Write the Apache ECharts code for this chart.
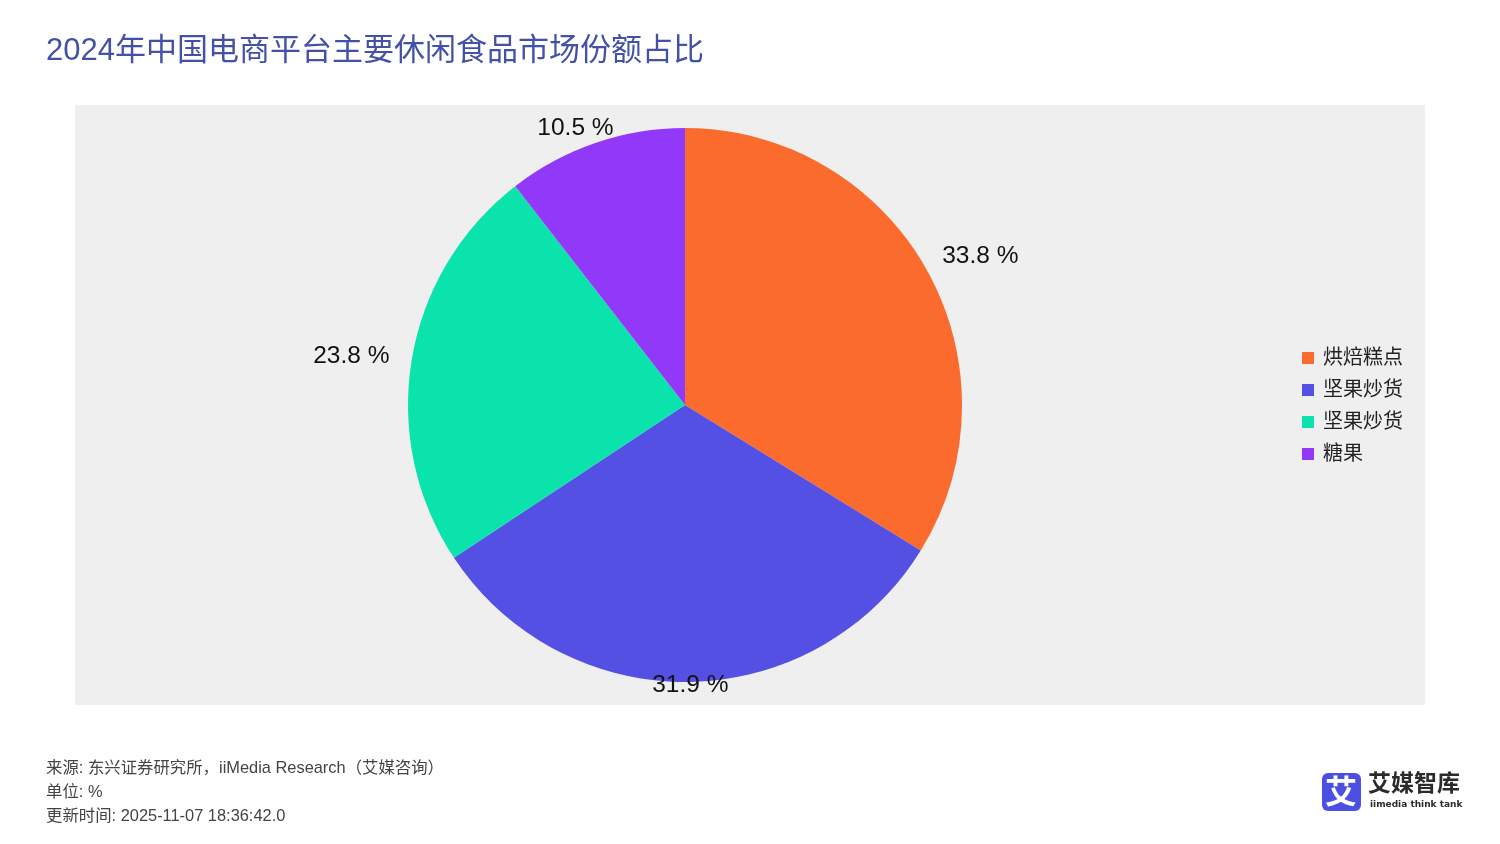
<!DOCTYPE html>
<html>
<head>
<meta charset="utf-8">
<script src="https://cdn.jsdelivr.net/npm/echarts@6/dist/echarts.min.js"></script>
<style>
html,body{margin:0;padding:0;background:#fff;}
#chart{width:1500px;height:844px;}
</style>
</head>
<body>
<div id="chart"></div>
<script>
const titleText = '2024年中国电商平台主要休闲食品市场份额占比';
const categories = ['烘焙糕点', '坚果炒货', '坚果炒货', '糖果'];
const shares = [33.8, 31.9, 23.8, 10.5];
const colors = ['#FB6B2D', '#5450E4', '#0BE3AC', '#9238F9'];
const footerLines = [
  '来源: 东兴证券研究所，iiMedia Research（艾媒咨询）',
  '单位: %',
  '更新时间: 2025-11-07 18:36:42.0'
];

const keys = categories.map((c, i) => c + '#' + i);
const pieData = keys.map((k, i) => ({ name: k, value: shares[i], itemStyle: { color: colors[i] } }));

const CX = 685, CY = 405, R = 277;
const total = shares.reduce((a, b) => a + b, 0);
const midAngles = [];
{ let acc = 0; shares.forEach(v => { midAngles.push((acc + v / 2) / total * Math.PI * 2); acc += v; }); }

const chart = echarts.init(document.getElementById('chart'), null, { renderer: 'canvas' });
const CJK = '"Liberation Sans", Arial, "Noto Sans CJK SC", sans-serif';

chart.setOption({
  backgroundColor: '#ffffff',
  animation: false,
  title: {
    text: titleText,
    left: 41,
    top: 31,
    textStyle: { fontFamily: CJK, fontSize: 31, fontWeight: 'normal', color: '#4352A7' }
  },
  legend: {
    orient: 'vertical',
    left: 1297,
    top: 343,
    itemWidth: 12,
    itemHeight: 12,
    itemGap: 12,
    icon: 'rect',
    data: keys,
    formatter: n => n.split('#')[0],
    textStyle: { fontFamily: CJK, fontSize: 20, color: '#222', padding: [0, 0, 0, 4] }
  },
  graphic: [
    { type: 'rect', z: -10, shape: { x: 75, y: 105, width: 1350, height: 600 }, style: { fill: '#efefef' } },
    ...footerLines.map((t, i) => ({
      type: 'text', left: 46, top: 760 + i * 24,
      style: { text: t, font: '16.4px ' + CJK, fill: '#444' }
    })),
    { type: 'rect', shape: { x: 1322, y: 773, width: 39, height: 38, r: 6 }, style: { fill: '#4B4FE2' } },
    { type: 'text', left: 1325, top: 775, style: { text: '艾', font: 'bold 32px "Noto Sans CJK SC"', fill: '#fff' } },
    { type: 'text', left: 1368, top: 771, style: { text: '艾媒智库', font: 'bold 23px "Noto Sans CJK SC"', fill: '#2b2b2b' } },
    { type: 'text', left: 1370, top: 800, style: { text: 'iimedia think tank', font: 'bold 9px "DejaVu Sans"', fill: '#2b2b2b' } }
  ],
  series: [{
    type: 'pie',
    center: [CX, CY],
    radius: R,
    startAngle: 90,
    clockwise: true,
    avoidLabelOverlap: false,
    data: pieData,
    label: {
      show: true,
      position: 'outside',
      formatter: p => p.value.toFixed(1) + ' %',
      fontFamily: '"Liberation Sans", Arial, sans-serif',
      fontSize: 24.5,
      color: '#111'
    },
    labelLine: { show: false, length: 8, length2: 0 },
    labelLayout: params => {
      const a = midAngles[params.dataIndex];
      const dx = Math.sin(a), dy = -Math.cos(a);
      const w = params.labelRect.width;
      return {
        x: CX + R * dx + dx * (w / 2 + 23),
        y: CY + R * dy + dy * 35 * Math.pow(Math.abs(dx), 0.6) + 2 * (1 - Math.max(0, dy)),
        align: 'center',
        verticalAlign: 'middle'
      };
    },
    emphasis: { disabled: true }
  }]
});
</script>
</body>
</html>
